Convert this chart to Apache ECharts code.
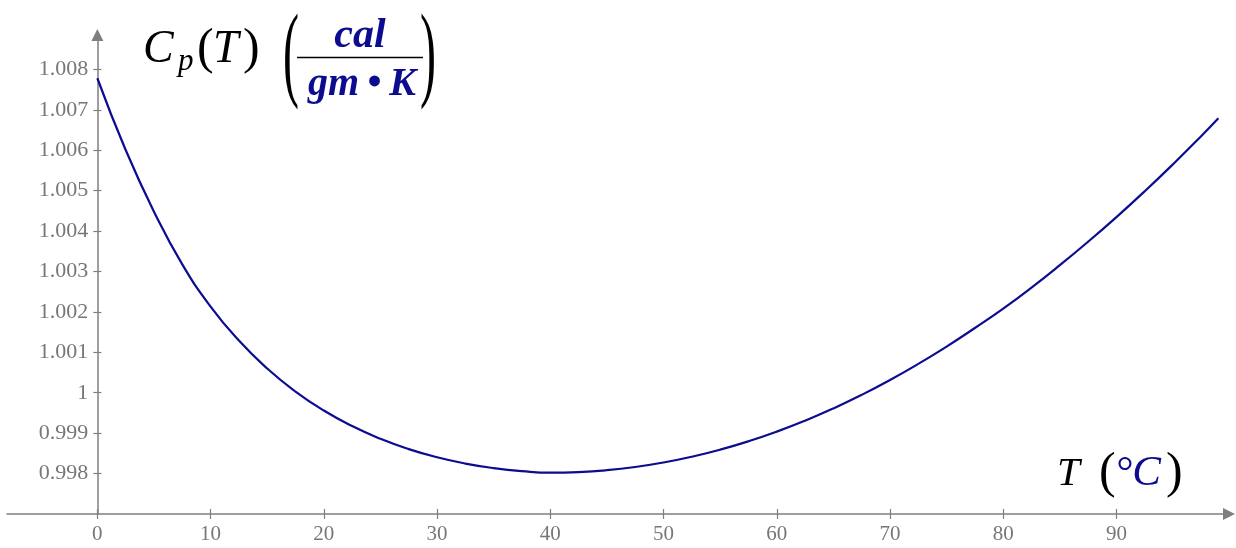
<!DOCTYPE html>
<html>
<head>
<meta charset="utf-8">
<script src="https://cdn.jsdelivr.net/npm/echarts@6/dist/echarts.min.js"></script>
<style>
html,body{margin:0;padding:0;background:#fff;}
#chart{width:1236px;height:548px;}
</style>
</head>
<body>
<div id="chart"></div>
<script>
// Temperature T (°C)
const tempC = [0, 2.5, 5, 7.5, 10, 12.5, 15, 17.5, 20, 22.5, 25, 27.5, 30, 32.5, 35, 37.5, 40, 42.5, 45, 47.5, 50, 52.5, 55, 57.5, 60, 62.5, 65, 67.5, 70, 72.5, 75, 77.5, 80, 82.5, 85, 87.5, 90, 92.5, 95, 97.5, 99];
// Cp(T) in cal/(gm·K)
const cpVals = [1.00778, 1.006005, 1.00448, 1.003175, 1.00213, 1.00129, 1.00060, 1.00003, 0.99956, 0.999175, 0.99886, 0.998605, 0.998403, 0.998248, 0.998136, 0.998061, 0.998022, 0.998037, 0.998084, 0.998163, 0.998274, 0.998417, 0.998592, 0.998799, 0.999038, 0.999309, 0.999612, 0.999947, 1.000314, 1.000713, 1.001142, 1.001601, 1.00208, 1.002600, 1.003155, 1.003737, 1.004346, 1.004985, 1.005654, 1.006353, 1.00679];
const xTicks = [0, 10, 20, 30, 40, 50, 60, 70, 80, 90];
const yTicks = [0.998, 0.999, 1, 1.001, 1.002, 1.003, 1.004, 1.005, 1.006, 1.007, 1.008];

const axisGray = '#7f7f7f';
const labelGray = '#777777';
const serif = '"Liberation Serif", "DejaVu Serif", serif';
const blue = '#0c0c90';

const chart = echarts.init(document.getElementById('chart'), null, {renderer: 'canvas'});
const xMin = -7.98, xMax = 99.94, yMin = 0.997, yMax = 1.00885;
const gridLeft = 7, gridRight = 7;
// place the y axis where x = 0 falls
const plotW = 1236 - gridLeft - gridRight;
const yAxisOffset = -((0 - xMin) / (xMax - xMin)) * plotW;

const option = {
  animation: false,
  backgroundColor: '#ffffff',
  grid: {left: gridLeft, right: gridRight, top: 35, bottom: 34, outerBoundsMode: 'none', containLabel: false},
  xAxis: [{
    type: 'value', min: xMin, max: xMax, position: 'bottom',
    axisLine: {show: true, onZero: false, symbol: ['none', 'triangle'], symbolSize: [12, 12], lineStyle: {color: axisGray, width: 1.5}},
    axisTick: {show: true, length: 5, customValues: xTicks, lineStyle: {color: axisGray, width: 1.2}},
    axisLabel: {show: true, customValues: xTicks, margin: 10, color: labelGray, fontFamily: serif, fontSize: 21},
    splitLine: {show: false}
  }, {
    type: 'value', min: xMin, max: xMax, position: 'bottom',
    axisLine: {show: false, onZero: false},
    axisTick: {show: true, inside: true, length: 5, customValues: xTicks, lineStyle: {color: axisGray, width: 1.2}},
    axisLabel: {show: false},
    splitLine: {show: false}
  }],
  yAxis: [{
    type: 'value', min: yMin, max: yMax, position: 'left', offset: yAxisOffset,
    axisLine: {show: true, onZero: false, symbol: ['none', 'triangle'], symbolSize: [12, 12], lineStyle: {color: axisGray, width: 1.5}},
    axisTick: {show: true, length: 4, customValues: yTicks, lineStyle: {color: axisGray, width: 1.2}},
    axisLabel: {show: true, customValues: yTicks, margin: 9, color: labelGray, fontFamily: serif, fontSize: 22,
      formatter: function (v) { return String(parseFloat(Number(v).toFixed(3))); }},
    splitLine: {show: false}
  }, {
    type: 'value', min: yMin, max: yMax, position: 'left', offset: yAxisOffset,
    axisLine: {show: false, onZero: false},
    axisTick: {show: true, inside: true, length: 4, customValues: yTicks, lineStyle: {color: axisGray, width: 1.2}},
    axisLabel: {show: false},
    splitLine: {show: false}
  }],
  series: [{
    type: 'line',
    xAxisIndex: 0, yAxisIndex: 0,
    data: tempC.map((t, i) => [t, cpVals[i]]),
    smooth: 0.5,
    showSymbol: false,
    lineStyle: {color: blue, width: 2.2},
    z: 5
  }],
  graphic: [
    // y-axis title: C_p(T) (cal / gm·K)
    {type: 'text', x: 143, y: 50, style: {text: 'C', font: 'italic 46px ' + serif, fill: '#000', textAlign: 'left', textVerticalAlign: 'middle'}},
    {type: 'text', x: 178, y: 62, style: {text: 'p', font: 'italic 31px ' + serif, fill: '#000', textAlign: 'left', textVerticalAlign: 'middle'}},
    {type: 'text', x: 197, y: 50, style: {text: '(', font: '50px ' + serif, fill: '#000', textAlign: 'left', textVerticalAlign: 'middle'}},
    {type: 'text', x: 213, y: 50, style: {text: 'T', font: 'italic 46px ' + serif, fill: '#000', textAlign: 'left', textVerticalAlign: 'middle'}},
    {type: 'text', x: 243, y: 50, style: {text: ')', font: '50px ' + serif, fill: '#000', textAlign: 'left', textVerticalAlign: 'middle'}},
    {type: 'text', x: 283, y: 59, scaleY: 2.2, style: {text: '(', font: '48px ' + serif, fill: '#000', textAlign: 'left', textVerticalAlign: 'middle'}},
    {type: 'text', x: 420, y: 59, scaleY: 2.2, style: {text: ')', font: '48px ' + serif, fill: '#000', textAlign: 'left', textVerticalAlign: 'middle'}},
    {type: 'line', shape: {x1: 297, y1: 57.5, x2: 423, y2: 57.5}, style: {stroke: '#000', lineWidth: 1.5}},
    {type: 'text', x: 360, y: 36, style: {text: 'cal', font: 'italic bold 42px ' + serif, fill: blue, textAlign: 'center', textVerticalAlign: 'middle'}},
    {type: 'text', x: 362, y: 85, style: {text: 'gm\u2009\u2022\u2009K', font: 'italic bold 40px ' + serif, fill: blue, textAlign: 'center', textVerticalAlign: 'middle'}},
    // x-axis title: T (°C)
    {type: 'text', x: 1057, y: 474, style: {text: 'T', font: 'italic 41px ' + serif, fill: '#000', textAlign: 'left', textVerticalAlign: 'middle'}},
    {type: 'text', x: 1099, y: 474, style: {text: '(', font: '50px ' + serif, fill: '#000', textAlign: 'left', textVerticalAlign: 'middle'}},
    {type: 'text', x: 1115, y: 474, style: {text: '\u00B0C', font: 'italic 43px ' + serif, fill: blue, textAlign: 'left', textVerticalAlign: 'middle'}},
    {type: 'text', x: 1166, y: 474, style: {text: ')', font: '50px ' + serif, fill: '#000', textAlign: 'left', textVerticalAlign: 'middle'}}
  ]
};
chart.setOption(option);
</script>
</body>
</html>
